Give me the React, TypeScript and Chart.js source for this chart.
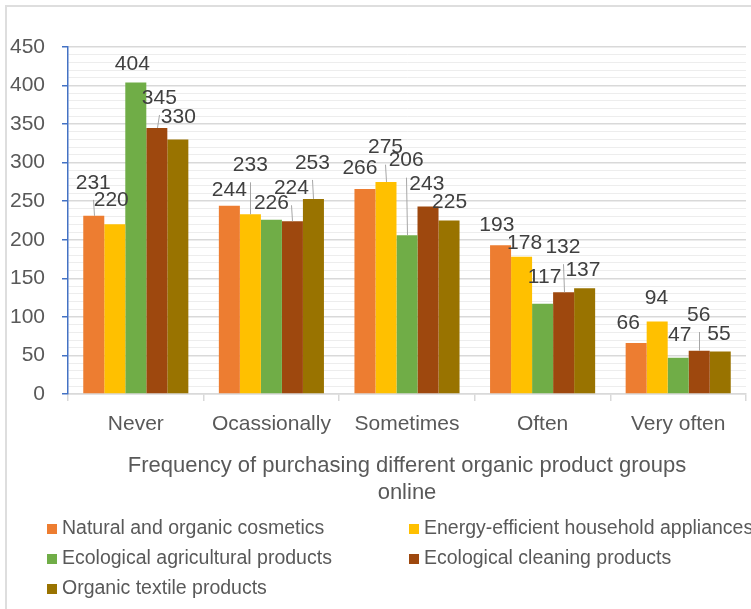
import React, { useEffect, useRef } from 'react';
import { Chart, registerables } from 'chart.js';

Chart.register(...registerables);

// ---------- data ----------
const categories = ['Never', 'Ocassionally', 'Sometimes', 'Often', 'Very often'];
const seriesNames = [
  'Natural and organic cosmetics',
  'Energy-efficient household appliances',
  'Ecological agricultural products',
  'Ecological cleaning products',
  'Organic textile products',
];
const naturalCosmetics = [231, 244, 266, 193, 66];
const energyAppliances = [220, 233, 275, 178, 94];
const agriculturalProducts = [404, 226, 206, 117, 47];
const cleaningProducts = [345, 224, 243, 132, 56];
const textileProducts = [330, 253, 225, 137, 55];
const xAxisTitle = ['Frequency of purchasing different organic product groups', 'online'];
const Y_MIN = 0;
const Y_MAX = 450;
const Y_MAJOR = 50;
const Y_MINOR = 10;

// ---------- styles ----------
const FONT = '"Liberation Sans", Arial, sans-serif';
const COLORS = ['#ED7D31', '#FFC000', '#70AD47', '#9E480E', '#997300'];
const AXIS_TEXT = '#595959';
const LABEL_TEXT = '#404040';

// label placement (dx, dy relative to bar top centre; leader line flag)
const LABEL_OFFSETS: [number, number, boolean][][] = [
  [[-0.5, -33, true], [0, -16, false], [-5, -20.6, false], [-3.7, -20, false], [-8, -20, false]],
  [[-3.5, -24, false], [0, -49, true], [-0.5, -34.3, true], [3, -14, false], [-0.8, -23, false]],
  [[-3.5, -18.5, false], [0, -16.4, false], [-0.8, -74.5, true], [2, -26.5, false], [1.5, -22.8, false]],
  [[2.5, -30, true], [-1, -33, true], [-1.2, -22.6, false], [-0.7, -45, true], [-0.5, -35.8, true]],
  [[0.5, -22.5, false], [-1, -36, true], [0.5, -17.8, false], [-1.7, -17.7, false], [-1.2, -17.3, false]],
];

const dataLabelPlugin = {
  id: 'dataLabels',
  afterDatasetsDraw(chart: any) {
    const ctx = chart.ctx;
    ctx.save();
    ctx.font = `21px ${FONT}`;
    ctx.textAlign = 'center';
    ctx.textBaseline = 'middle';
    chart.data.datasets.forEach((ds: any, i: number) => {
      const meta = chart.getDatasetMeta(i);
      meta.data.forEach((bar: any, j: number) => {
        const { x, y } = bar.getProps(['x', 'y'], true);
        const [dx, dy, leader] = LABEL_OFFSETS[i][j];
        const lx = x + dx;
        const ly = y + dy;
        if (leader) {
          ctx.strokeStyle = '#a6a6a6';
          ctx.lineWidth = 1;
          ctx.beginPath();
          ctx.moveTo(Math.round(x) + 0.5, y);
          ctx.lineTo(Math.round(lx) + 0.5, ly + 17);
          ctx.stroke();
        }
        ctx.fillStyle = LABEL_TEXT;
        ctx.fillText(String(ds.data[j]), lx, ly);
      });
    });
    ctx.restore();
  },
};

const legendPlugin = {
  id: 'gridLegend',
  afterDraw(chart: any) {
    const ctx = chart.ctx;
    ctx.save();
    ctx.font = `19.5px ${FONT}`;
    ctx.textAlign = 'left';
    ctx.textBaseline = 'middle';
    chart.data.datasets.forEach((ds: any, i: number) => {
      const col = i % 2;
      const row = Math.floor(i / 2);
      const x = col === 0 ? 47 : 409;
      const y = 529 + row * 30;
      ctx.fillStyle = ds.backgroundColor;
      ctx.fillRect(x, y - 5, 10, 10);
      ctx.fillStyle = AXIS_TEXT;
      ctx.fillText(ds.label, x + 15, y);
    });
    ctx.restore();
  },
};

export default function App() {
  const canvasRef = useRef<HTMLCanvasElement | null>(null);

  useEffect(() => {
    if (!canvasRef.current) return;
    const values = [naturalCosmetics, energyAppliances, agriculturalProducts, cleaningProducts, textileProducts];
    const chart = new Chart(canvasRef.current, {
      type: 'bar',
      data: {
        labels: categories,
        datasets: values.map((d, i) => ({
          label: seriesNames[i],
          data: d,
          backgroundColor: COLORS[i],
          borderWidth: 0,
          categoryPercentage: 0.775,
          barPercentage: 1,
        })),
      },
      options: {
        responsive: false,
        animation: false,
        devicePixelRatio: 1,
        layout: { padding: { top: 47, left: 0, right: 5, bottom: 103 } },
        plugins: {
          legend: { display: false },
          tooltip: { enabled: false },
        },
        scales: {
          x: {
            grid: {
              offset: true,
              drawOnChartArea: false,
              drawTicks: true,
              tickLength: 7,
              color: '#d9d9d9',
              tickColor: '#d9d9d9',
              lineWidth: 1.5,
            },
            border: { color: '#d9d9d9', width: 1.5 },
            ticks: {
              color: AXIS_TEXT,
              font: { family: FONT, size: 21 },
              padding: 11,
              maxRotation: 0,
              autoSkip: false,
            },
            title: {
              display: true,
              text: xAxisTitle,
              color: AXIS_TEXT,
              font: { family: FONT, size: 22, lineHeight: 27 / 22 },
              padding: { top: 0, bottom: 0 },
            },
            afterFit: (s: any) => {
              s.height = 112;
            },
          },
          y: {
            min: Y_MIN,
            max: Y_MAX,
            ticks: {
              stepSize: Y_MINOR,
              autoSkip: false,
              callback: (v: any) => (Number(v) % Y_MAJOR === 0 ? String(v) : ''),
              color: AXIS_TEXT,
              font: { family: FONT, size: 21 },
              padding: 17,
            },
            grid: {
              color: (c: any) => (c.tick && c.tick.value % Y_MAJOR === 0 ? '#d9d9d9' : '#ededed'),
              lineWidth: (c: any) => (c.tick && c.tick.value % Y_MAJOR === 0 ? 1.5 : 1),
              tickColor: (c: any) => (c.tick && c.tick.value % Y_MAJOR === 0 ? '#4472C4' : 'rgba(0,0,0,0)'),
              tickLength: 6,
              drawTicks: true,
            },
            border: { color: '#4472C4', width: 1.5 },
            afterFit: (s: any) => {
              s.width = 68;
            },
          },
        },
      },
      plugins: [dataLabelPlugin, legendPlugin],
    });
    return () => chart.destroy();
  }, []);

  return (
    <div
      style={{
        position: 'fixed',
        left: 0,
        top: 0,
        width: 751,
        height: 609,
        overflow: 'hidden',
        background: '#ffffff',
      }}
    >
      <div
        style={{
          position: 'absolute',
          left: 5,
          top: 5,
          width: 800,
          height: 700,
          border: '2px solid #dedede',
        }}
      />
      <canvas
        ref={canvasRef}
        width={751}
        height={609}
        style={{ position: 'absolute', left: 0, top: 0, width: 751, height: 609 }}
      />
    </div>
  );
}
